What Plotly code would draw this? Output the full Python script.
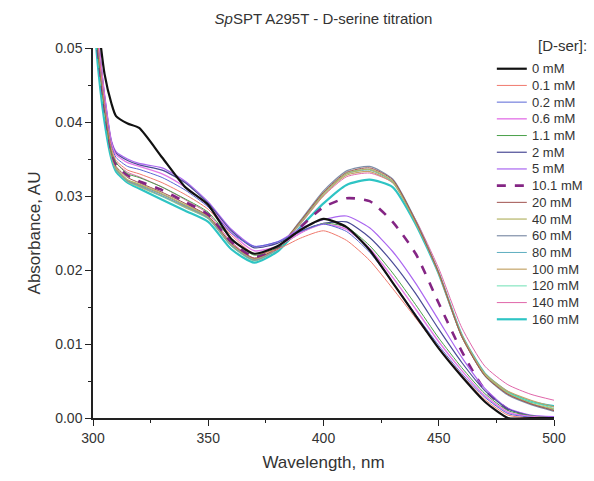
import plotly.graph_objects as go

# Wavelength grid (nm) at which absorbance was read
wavelength = [300, 302, 305, 308, 310, 315, 320, 330, 340, 350, 360, 370, 380,
              390, 400, 410, 420, 430, 440, 450, 460, 470, 480, 490, 500]

labels = ["0 mM", "0.1 mM", "0.2 mM", "0.6 mM", "1.1 mM", "2 mM", "5 mM", "10.1 mM",
          "20 mM", "40 mM", "60 mM", "80 mM", "100 mM", "120 mM", "140 mM", "160 mM"]

abs_0 = [0.060, 0.054, 0.0465, 0.0425, 0.0408, 0.0398, 0.0392, 0.0352, 0.0312, 0.0288, 0.0242, 0.0222, 0.0232,
         0.0254, 0.0269, 0.0258, 0.0227, 0.0183, 0.0138, 0.0094, 0.0056, 0.0022, 0.0000, 0.0000, 0.0000]
abs_0_1 = [0.058, 0.051, 0.0425, 0.0365, 0.0348, 0.0335, 0.0330, 0.0318, 0.0302, 0.0282, 0.0247, 0.0222, 0.0228,
           0.0243, 0.0253, 0.0240, 0.0213, 0.0175, 0.0135, 0.0095, 0.0058, 0.0025, 0.0004, 0.0000, 0.0000]
abs_0_2 = [0.058, 0.051, 0.0428, 0.0368, 0.0352, 0.0340, 0.0336, 0.0325, 0.0308, 0.0285, 0.0250, 0.0232, 0.0238,
           0.0252, 0.0262, 0.0252, 0.0224, 0.0183, 0.0140, 0.0098, 0.0060, 0.0028, 0.0006, 0.0001, 0.0000]
abs_0_6 = [0.058, 0.052, 0.0435, 0.0372, 0.0356, 0.0345, 0.0340, 0.0330, 0.0312, 0.0287, 0.0250, 0.0226, 0.0232,
           0.0250, 0.0262, 0.0255, 0.0229, 0.0190, 0.0147, 0.0103, 0.0064, 0.0030, 0.0008, 0.0002, 0.0000]
abs_1_1 = [0.057, 0.050, 0.0420, 0.0360, 0.0345, 0.0330, 0.0325, 0.0312, 0.0296, 0.0278, 0.0242, 0.0220, 0.0230,
           0.0250, 0.0263, 0.0258, 0.0233, 0.0196, 0.0153, 0.0108, 0.0068, 0.0033, 0.0010, 0.0003, 0.0000]
abs_2 = [0.058, 0.052, 0.0435, 0.0373, 0.0358, 0.0348, 0.0342, 0.0335, 0.0318, 0.0290, 0.0253, 0.0230, 0.0236,
         0.0252, 0.0263, 0.0265, 0.0244, 0.0210, 0.0168, 0.0120, 0.0075, 0.0037, 0.0012, 0.0003, 0.0000]
abs_5 = [0.058, 0.052, 0.0438, 0.0375, 0.0360, 0.0350, 0.0344, 0.0338, 0.0320, 0.0292, 0.0255, 0.0232, 0.0238,
         0.0256, 0.0268, 0.0273, 0.0257, 0.0225, 0.0182, 0.0132, 0.0082, 0.0040, 0.0013, 0.0004, 0.0002]
abs_10_1 = [0.057, 0.050, 0.0420, 0.0360, 0.0343, 0.0328, 0.0320, 0.0308, 0.0292, 0.0275, 0.0238, 0.0218, 0.0230,
            0.0258, 0.0285, 0.0297, 0.0293, 0.0265, 0.0222, 0.0155, 0.0090, 0.0038, 0.0012, 0.0002, 0.0000]
abs_20 = [0.057, 0.050, 0.0418, 0.0357, 0.0340, 0.0325, 0.0318, 0.0305, 0.0290, 0.0273, 0.0236, 0.0216, 0.0230,
          0.0266, 0.0305, 0.0332, 0.0338, 0.0322, 0.0266, 0.0196, 0.0110, 0.0057, 0.0032, 0.0019, 0.0010]
abs_40 = [0.057, 0.050, 0.0418, 0.0356, 0.0338, 0.0322, 0.0316, 0.0303, 0.0288, 0.0272, 0.0235, 0.0215, 0.0230,
          0.0265, 0.0304, 0.0330, 0.0336, 0.0320, 0.0265, 0.0195, 0.0110, 0.0058, 0.0033, 0.0020, 0.0012]
abs_60 = [0.057, 0.050, 0.0418, 0.0355, 0.0337, 0.0321, 0.0315, 0.0302, 0.0287, 0.0271, 0.0234, 0.0214, 0.0229,
          0.0267, 0.0307, 0.0334, 0.0340, 0.0323, 0.0267, 0.0196, 0.0110, 0.0057, 0.0031, 0.0018, 0.0009]
abs_80 = [0.057, 0.050, 0.0417, 0.0354, 0.0336, 0.0320, 0.0314, 0.0300, 0.0286, 0.0270, 0.0233, 0.0213, 0.0228,
          0.0264, 0.0303, 0.0330, 0.0335, 0.0319, 0.0265, 0.0195, 0.0110, 0.0057, 0.0032, 0.0019, 0.0011]
abs_100 = [0.057, 0.050, 0.0417, 0.0354, 0.0336, 0.0320, 0.0313, 0.0300, 0.0285, 0.0270, 0.0233, 0.0213, 0.0228,
           0.0263, 0.0301, 0.0328, 0.0333, 0.0318, 0.0264, 0.0196, 0.0112, 0.0060, 0.0036, 0.0024, 0.0015]
abs_120 = [0.057, 0.050, 0.0416, 0.0353, 0.0335, 0.0319, 0.0312, 0.0299, 0.0284, 0.0269, 0.0232, 0.0212, 0.0228,
           0.0264, 0.0303, 0.0331, 0.0336, 0.0320, 0.0266, 0.0197, 0.0112, 0.0059, 0.0034, 0.0022, 0.0013]
abs_140 = [0.058, 0.051, 0.0425, 0.0362, 0.0345, 0.0332, 0.0326, 0.0312, 0.0295, 0.0276, 0.0238, 0.0216, 0.0229,
           0.0262, 0.0300, 0.0326, 0.0331, 0.0318, 0.0268, 0.0202, 0.0122, 0.0070, 0.0045, 0.0032, 0.0024]
abs_160 = [0.056, 0.048, 0.0400, 0.0350, 0.0333, 0.0318, 0.0310, 0.0295, 0.0280, 0.0265, 0.0228, 0.0210, 0.0225,
           0.0258, 0.0290, 0.0315, 0.0322, 0.0312, 0.0262, 0.0195, 0.0112, 0.0060, 0.0035, 0.0022, 0.0016]

series = [abs_0, abs_0_1, abs_0_2, abs_0_6, abs_1_1, abs_2, abs_5, abs_10_1,
          abs_20, abs_40, abs_60, abs_80, abs_100, abs_120, abs_140, abs_160]

colors = ["#111111", "#f07a6e", "#5a66d6", "#e47ae8", "#4aa04a", "#4a4a96", "#aa66f0", "#842584",
          "#a0524e", "#b4b466", "#7f8fa8", "#5eaec0", "#c4a468", "#6ee0b4", "#e066aa", "#2ec4c4"]
widths = [2.2, 1, 1, 1.4, 1, 1.2, 1.2, 2.6, 1, 1.2, 1.2, 1, 1.2, 1, 1, 2.2]
dashes = ["solid"] * 7 + ["dash"] + ["solid"] * 8

FONT = "Liberation Sans, Arial, sans-serif"
TXT = "#333333"

fig = go.Figure()
# draw high-concentration curves first so the low ones sit on top
order = list(range(len(series)))[::-1]
for i in order:
    fig.add_trace(go.Scatter(
        x=wavelength, y=series[i], mode="lines", name=labels[i],
        line=dict(color=colors[i], width=widths[i], dash=dashes[i], shape="spline", smoothing=0.6),
        showlegend=False,
    ))

# Hand-built legend: short line sample plus label, stacked down the right side
x0, x1, xt = 0.876, 0.941, 0.947
top_px, step_px, plot_h = 69.0, 16.93, 375.0
for i, lab in enumerate(labels):
    yp = (423 - (top_px + step_px * i)) / plot_h
    fig.add_shape(type="line", xref="paper", yref="paper", x0=x0, x1=x1, y0=yp, y1=yp,
                  line=dict(color=colors[i], width=widths[i], dash="dash" if dashes[i] == "dash" else "solid"))
    fig.add_annotation(x=xt, y=yp, xref="paper", yref="paper", text=lab, showarrow=False,
                       xanchor="left", yanchor="middle", font=dict(family=FONT, size=13, color=TXT))
fig.add_annotation(x=1.077, y=1.008, xref="paper", yref="paper", text="[D-ser]:", showarrow=False,
                   xanchor="right", yanchor="middle", font=dict(family=FONT, size=15, color=TXT))

fig.update_layout(
    width=594, height=481, autosize=False,
    margin=dict(l=93, r=40, t=48, b=58),
    paper_bgcolor="white", plot_bgcolor="white",
    font=dict(family=FONT, color=TXT),
    title=dict(text="<i>Sp</i>SPT A295T - D-serine titration", x=0.5446, xanchor="center",
               y=0.962, yanchor="middle", font=dict(family=FONT, size=15, color=TXT)),
    xaxis=dict(range=[300, 500], tickvals=[300, 350, 400, 450, 500], ticks="outside", ticklen=6,
               tickwidth=1.3, tickcolor="#222", showline=True, linecolor="#222", linewidth=1.5,
               showgrid=False, zeroline=False, tickfont=dict(size=14, color=TXT),
               minor=dict(dtick=25, tick0=300, ticks="outside", ticklen=3, tickwidth=1.1, tickcolor="#222"),
               title=dict(text="Wavelength, nm", font=dict(size=17, color=TXT), standoff=12)),
    yaxis=dict(range=[0, 0.05], tickvals=[0, 0.01, 0.02, 0.03, 0.04, 0.05], tickformat=".2f",
               ticks="outside", ticklen=6, tickwidth=1.3, tickcolor="#222", showline=True,
               linecolor="#222", linewidth=1.5, showgrid=False, zeroline=False,
               tickfont=dict(size=14, color=TXT),
               minor=dict(dtick=0.005, tick0=0, ticks="outside", ticklen=3, tickwidth=1.1, tickcolor="#222"),
               title=dict(text="Absorbance, AU", font=dict(size=17, color=TXT), standoff=10)),
)

fig.write_html("out.html")
